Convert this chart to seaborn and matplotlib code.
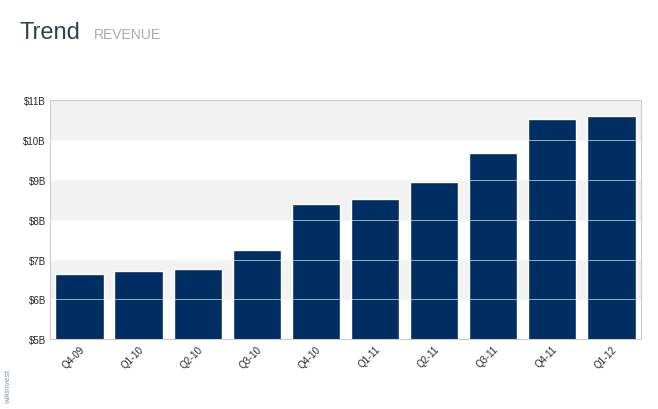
import matplotlib
matplotlib.use("Agg")
import matplotlib.pyplot as plt
import seaborn as sns
import pandas as pd

quarters = ["Q4-09","Q1-10","Q2-10","Q3-10","Q4-10","Q1-11","Q2-11","Q3-11","Q4-11","Q1-12"]
revenue = [6.63, 6.71, 6.76, 7.24, 8.39, 8.52, 8.94, 9.67, 10.53, 10.60]
ytick_vals = [5, 6, 7, 8, 9, 10, 11]
ytick_labels = ["$5B","$6B","$7B","$8B","$9B","$10B","$11B"]

sns.set_style("white")
plt.rcParams['font.family'] = ['Liberation Sans', 'DejaVu Sans']
fig = plt.figure(figsize=(6.58, 4.10), dpi=100)
ax = fig.add_axes([0.076, 0.17, 0.898, 0.583])
df = pd.DataFrame({"q": quarters, "v": revenue})
for lo in [6, 8, 10]:
    ax.axhspan(lo, lo + 1, color="#f2f2f2", zorder=0)
sns.barplot(data=df, x="q", y="v", color="#002d62", saturation=1, width=0.82, ax=ax, zorder=2)
ax.set_ylim(5, 11)
ax.set_xlim(-0.5, len(quarters) - 0.5)
ax.set_yticks(ytick_vals)
ax.set_yticklabels(ytick_labels, fontsize=7)
for y in ytick_vals[1:-1]:
    ax.axhline(y, color="white", lw=0.7, alpha=0.6, zorder=3)
ax.set_xticks(range(len(quarters)))
ax.set_xticklabels(quarters, rotation=45, ha="right", rotation_mode="anchor", fontsize=7)
ax.set_xlabel("")
ax.set_ylabel("")
for s in ax.spines.values():
    s.set_color("#cccccc")
ax.tick_params(length=0, pad=3)
fig.text(0.03, 0.905, "Trend", fontsize=17, color="#333f55")
fig.text(0.143, 0.905, "REVENUE", fontsize=10, color="#aaaaaa")
fig.text(0.008, 0.02, "wikinvest", fontsize=6, color="#8899aa", rotation=90)
fig.savefig("out.png", dpi=100)
